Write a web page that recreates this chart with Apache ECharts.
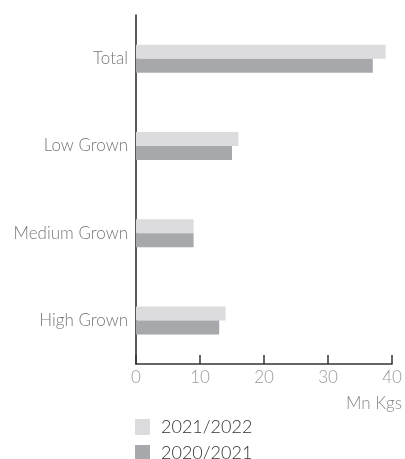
<!DOCTYPE html>
<html>
<head>
<meta charset="utf-8">
<style>
  html, body { margin: 0; padding: 0; background: #fff; }
  #chart { width: 405px; height: 459px; }
</style>
<script src="https://cdn.jsdelivr.net/npm/echarts@6/dist/echarts.min.js"></script>
</head>
<body>
<div id="chart"></div>
<script>
// Tea production by elevation, in millions of kilograms
const categories = ['High Grown', 'Medium Grown', 'Low Grown', 'Total'];
const season2021_22 = [14, 9, 16, 39];
const season2020_21 = [13, 9, 15, 37];
const seasonNames = ['2021/2022', '2020/2021'];
const xTicks = { min: 0, max: 40, interval: 10 };
const unitLabel = 'Mn Kgs';

const FONT = 'Lato, "Open Sans", sans-serif';
const chart = echarts.init(document.getElementById('chart'), null, { renderer: 'canvas' });

// one legend block per season, stacked vertically under the axis
const legendBlock = (name, top) => ({
  left: 135,
  top: top,
  padding: 0,
  itemWidth: 15,
  itemHeight: 16,
  icon: 'rect',
  data: [name],
  textStyle: { fontFamily: FONT, fontSize: 18, color: '#333', fontWeight: 300, padding: [0, 0, 0, 6] }
});

chart.setOption({
  animation: false,
  textStyle: { fontFamily: FONT },
  grid: { left: 136, right: 12.5, top: 15, bottom: 95, containLabel: false },
  legend: [legendBlock(seasonNames[0], 418), legendBlock(seasonNames[1], 444)],
  xAxis: {
    type: 'value',
    min: xTicks.min,
    max: xTicks.max,
    interval: xTicks.interval,
    splitLine: { show: false },
    axisLine: { show: true, lineStyle: { color: '#333', width: 1.5 } },
    axisTick: { show: true, inside: true, length: 9, lineStyle: { color: '#333', width: 1.5 } },
    axisLabel: { fontFamily: FONT, fontSize: 17, color: '#999', fontWeight: 300, margin: 5 },
    name: unitLabel,
    nameLocation: 'end',
    nameGap: 0,
    nameTextStyle: {
      fontFamily: FONT, fontSize: 17, color: '#888', fontWeight: 300,
      align: 'right', verticalAlign: 'top', padding: [31, -10, 0, 0]
    }
  },
  yAxis: {
    type: 'category',
    data: categories,
    axisLine: { show: true, lineStyle: { color: '#222', width: 1.5 } },
    axisTick: { show: false },
    axisLabel: { fontFamily: FONT, fontSize: 17, color: '#777', fontWeight: 300, margin: 8 }
  },
  series: [
    {
      name: seasonNames[0],
      type: 'bar',
      data: season2021_22,
      barWidth: 14,
      barGap: '0%',
      itemStyle: { color: '#dcdcde' }
    },
    {
      name: seasonNames[1],
      type: 'bar',
      data: season2020_21,
      barWidth: 14,
      barGap: '0%',
      itemStyle: { color: '#a7a8ab' }
    }
  ]
});
</script>
</body>
</html>
